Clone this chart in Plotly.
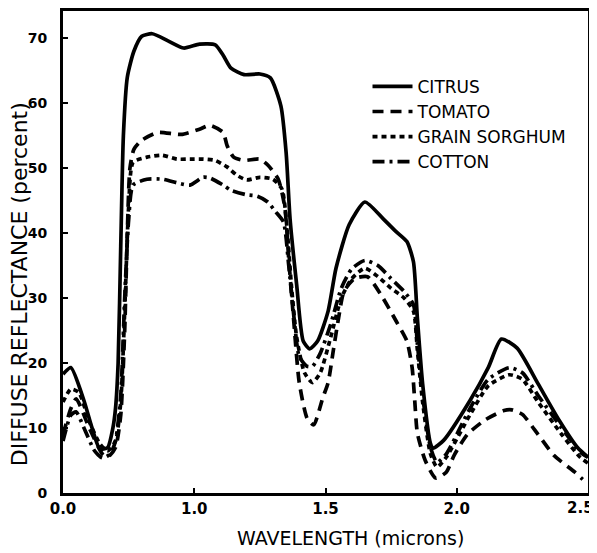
import plotly.graph_objects as go

# ---- data ----
citrus_w = [0.50, 0.53, 0.58, 0.61, 0.64, 0.67, 0.69, 0.70, 0.71, 0.72, 0.73, 0.745, 0.77, 0.80, 0.84,
            0.90, 0.96, 1.02, 1.08, 1.11, 1.14, 1.19, 1.25, 1.29, 1.33, 1.35, 1.365, 1.39, 1.415, 1.44,
            1.47, 1.51, 1.54, 1.59, 1.65, 1.72, 1.77, 1.81, 1.835, 1.85, 1.87, 1.90, 1.91, 1.95, 2.05,
            2.12, 2.17, 2.23, 2.31, 2.39, 2.46, 2.50]
citrus_r = [18.3, 19.3, 14.2, 10.1, 6.8, 7.0, 10.0, 13.0, 20.0, 38.0, 55.0, 64.0, 68.0, 70.3, 70.7,
            69.6, 68.5, 69.1, 69.0, 67.4, 65.4, 64.4, 64.5, 63.9, 59.6, 52.4, 42.2, 32.1, 23.4, 22.2,
            23.4, 28.0, 34.6, 41.3, 44.8, 42.2, 40.2, 38.7, 35.6, 26.9, 16.8, 7.6, 6.9, 8.1, 14.2,
            19.3, 23.7, 22.3, 16.8, 11.2, 7.0, 5.5]

tomato_w = [0.50, 0.53, 0.55, 0.60, 0.65, 0.67, 0.70, 0.72, 0.735, 0.745, 0.755, 0.77, 0.80, 0.86,
            0.95, 1.02, 1.06, 1.11, 1.125, 1.15, 1.19, 1.25, 1.28, 1.32, 1.345, 1.36, 1.38, 1.40,
            1.43, 1.455, 1.49, 1.51, 1.53, 1.55, 1.57, 1.61, 1.66, 1.71, 1.77, 1.81, 1.83, 1.84,
            1.85, 1.88, 1.92, 1.96, 1.99, 2.04, 2.11, 2.18, 2.21, 2.25, 2.31, 2.37, 2.45, 2.48]
tomato_r = [9.0, 13.0, 14.5, 10.0, 6.0, 5.5, 7.0, 12.0, 25.0, 40.0, 50.0, 52.9, 54.3, 55.5,
            55.2, 56.0, 56.6, 55.5, 53.5, 51.7, 51.2, 51.4, 50.5, 48.3, 44.0, 36.0, 26.0, 17.0,
            11.5, 10.5, 14.7, 17.0, 22.0, 27.0, 31.0, 33.0, 33.3, 30.6, 26.4, 23.4, 19.3, 14.2,
            9.2, 5.0, 2.3, 3.2, 5.8, 9.0, 11.3, 12.7, 12.8, 12.1, 9.0, 5.8, 3.2, 2.1]

sorghum_w = [0.50, 0.53, 0.56, 0.60, 0.64, 0.67, 0.70, 0.72, 0.735, 0.75, 0.767, 0.82, 0.877, 0.934,
             0.984, 1.033, 1.079, 1.125, 1.163, 1.20, 1.25, 1.30, 1.334, 1.355, 1.37, 1.39, 1.42,
             1.45, 1.48, 1.52, 1.56, 1.60, 1.65, 1.70, 1.75, 1.80, 1.835, 1.85, 1.87, 1.90, 1.925,
             1.96, 2.05, 2.12, 2.20, 2.25, 2.31, 2.40, 2.47, 2.50]
sorghum_r = [14.0, 16.0, 15.5, 11.0, 7.6, 6.5, 8.0, 14.0, 28.0, 44.0, 50.9, 51.7, 52.0, 51.4,
             51.4, 51.4, 51.2, 50.2, 48.9, 48.2, 48.6, 48.3, 46.8, 40.0, 32.0, 24.0, 18.5,
             17.0, 18.5, 24.0, 30.0, 33.0, 34.6, 33.3, 31.5, 30.0, 28.0, 22.0, 14.0, 6.0, 4.0,
             5.5, 12.0, 16.5, 18.2, 17.5, 14.0, 9.0, 5.5, 4.6]

cotton_w = [0.50, 0.53, 0.55, 0.58, 0.62, 0.65, 0.68, 0.70, 0.72, 0.735, 0.75, 0.767, 0.82, 0.88,
            0.94, 0.984, 1.033, 1.06, 1.11, 1.14, 1.20, 1.24, 1.28, 1.31, 1.34, 1.36, 1.38, 1.40,
            1.43, 1.45, 1.48, 1.52, 1.56, 1.60, 1.65, 1.70, 1.75, 1.80, 1.835, 1.85, 1.87, 1.90,
            1.925, 1.96, 2.05, 2.12, 2.20, 2.25, 2.31, 2.40, 2.47, 2.50]
cotton_r = [8.0, 12.0, 12.5, 10.0, 6.5, 5.4, 6.0, 8.0, 15.0, 30.0, 42.0, 47.4, 48.3, 48.3,
            47.7, 47.4, 48.6, 48.5, 47.4, 46.6, 45.9, 45.7, 44.8, 43.3, 41.7, 35.0, 27.0, 21.0,
            19.5, 19.5, 21.5, 26.0, 31.5, 34.5, 35.8, 35.0, 33.0, 31.0, 29.0, 23.0, 15.0, 7.0,
            4.7, 6.0, 13.0, 17.5, 19.3, 18.5, 15.0, 10.0, 6.3, 5.5]

x_tickvals = [0.5, 1.0, 1.5, 2.0, 2.5]
x_ticktext = ["0.0", "1.0", "1.5", "2.0", "2.5"]
y_tickvals = [0, 10, 20, 30, 40, 50, 60, 70]

series = [
    ("CITRUS", citrus_w, citrus_r, "solid"),
    ("TOMATO", tomato_w, tomato_r, "11px,7px"),
    ("GRAIN SORGHUM", sorghum_w, sorghum_r, "5px,4px"),
    ("COTTON", cotton_w, cotton_r, "12px,5px,3px,5px"),
]

FONT = "DejaVu Sans, sans-serif"
TICKFONT = dict(family=FONT, size=15, color="black", weight="bold")

fig = go.Figure()
for name, w, r, dash in series:
    fig.add_trace(go.Scatter(
        x=w, y=r, name=name, mode="lines",
        line=dict(color="black", width=3.7, dash=dash, shape="spline", smoothing=0.6),
    ))

# last x tick label sits at the very right edge: draw it right-aligned so it stays visible
axis_ticktext = x_ticktext[:-1] + [""]

fig.update_layout(
    width=589, height=545,
    margin=dict(l=55, r=9, t=0, b=60),
    paper_bgcolor="white", plot_bgcolor="white",
    showlegend=True,
    legend=dict(x=0.58, y=0.88, xanchor="left", yanchor="top",
                font=dict(family=FONT, size=17, color="black"),
                itemwidth=40, bgcolor="rgba(0,0,0,0)", tracegroupgap=0),
    font=dict(family=FONT, color="black"),
    annotations=[
        dict(text="DIFFUSE REFLECTANCE (percent)", textangle=-90,
             xref="paper", yref="paper", x=-0.084, y=0.433,
             xanchor="center", yanchor="middle", showarrow=False,
             font=dict(family=FONT, size=22, color="black")),
        dict(text="WAVELENGTH (microns)",
             xref="paper", yref="paper", x=0.547, y=-0.093,
             xanchor="center", yanchor="middle", showarrow=False,
             font=dict(family=FONT, size=19, color="black")),
        dict(text=x_ticktext[-1], xref="x", yref="paper", x=x_tickvals[-1], y=0,
             xanchor="right", yanchor="top", xshift=8, yshift=-4, showarrow=False,
             font=TICKFONT),
    ],
)
fig.update_xaxes(
    range=[0.5, 2.5], tickvals=x_tickvals, ticktext=axis_ticktext,
    showline=True, linecolor="black", linewidth=3, mirror=True,
    ticks="inside", ticklen=5, tickwidth=2, tickcolor="black",
    showgrid=False, zeroline=False,
    tickfont=TICKFONT,
)
fig.update_yaxes(
    range=[0, 74.2], tickvals=y_tickvals,
    showline=True, linecolor="black", linewidth=3, mirror=True,
    ticks="inside", ticklen=5, tickwidth=2, tickcolor="black",
    showgrid=False, zeroline=False, ticklabelstandoff=10,
    tickfont=dict(family=FONT, size=14, color="black", weight="bold"),
)

fig.write_html("out.html")
